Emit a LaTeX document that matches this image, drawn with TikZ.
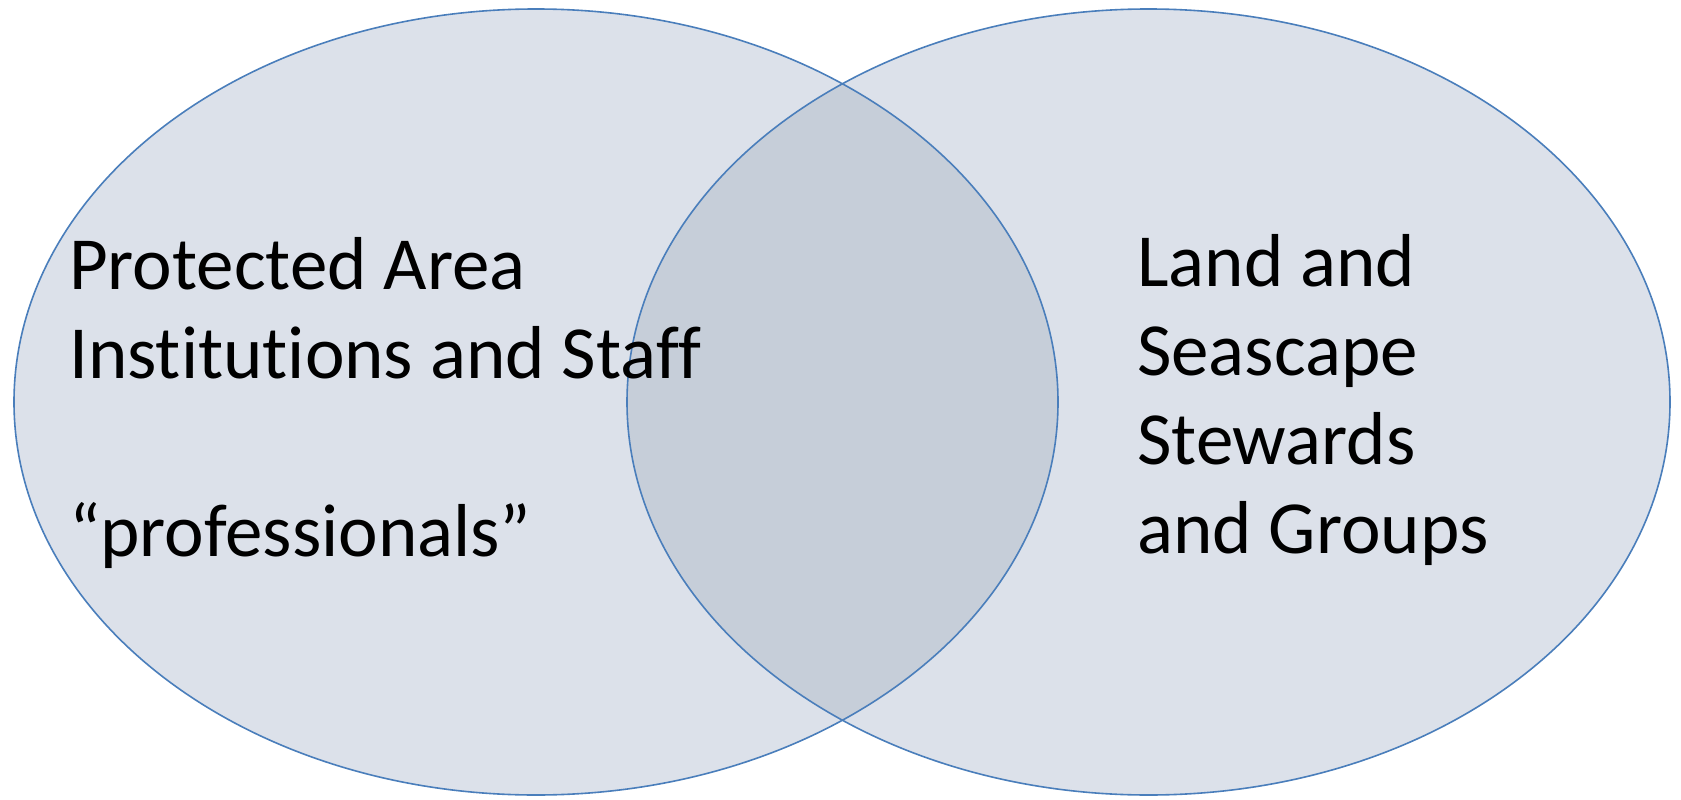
\documentclass[tikz,border=0pt]{standalone}
\usepackage{fontspec}
\setmainfont{Carlito}[Ligatures=NoCommon]
\definecolor{vfill}{RGB}{220,225,234}
\definecolor{vover}{RGB}{198,206,217}
\definecolor{vline}{RGB}{74,126,187}
\begin{document}
\begin{tikzpicture}[x=1pt,y=-1pt,
  setlabel/.style={anchor=base west,inner sep=0pt,align=left,font=\fontsize{75}{88.7}\selectfont}]
\useasboundingbox (0,0) rectangle (1681,800);
\coordinate (lc) at (536,402);
\coordinate (rc) at (1148.5,402);
\fill[vfill] (lc) ellipse [x radius=522pt, y radius=393pt];
\fill[vfill] (rc) ellipse [x radius=521.5pt, y radius=393pt];
\begin{scope}
  \clip (lc) ellipse [x radius=522pt, y radius=393pt];
  \fill[vover] (rc) ellipse [x radius=521.5pt, y radius=393pt];
\end{scope}
\draw[vline,line width=1.6pt] (lc) ellipse [x radius=522pt, y radius=393pt];
\draw[vline,line width=1.6pt] (rc) ellipse [x radius=521.5pt, y radius=393pt];
\node[setlabel] (lefttext) at (69,556) {Protected Area\\Institutions and Staff\\[88.7pt]“professionals”};
\node[setlabel] (righttext) at (1137,553) {Land and\\Seascape\\Stewards\\and Groups};
\end{tikzpicture}
\end{document}
